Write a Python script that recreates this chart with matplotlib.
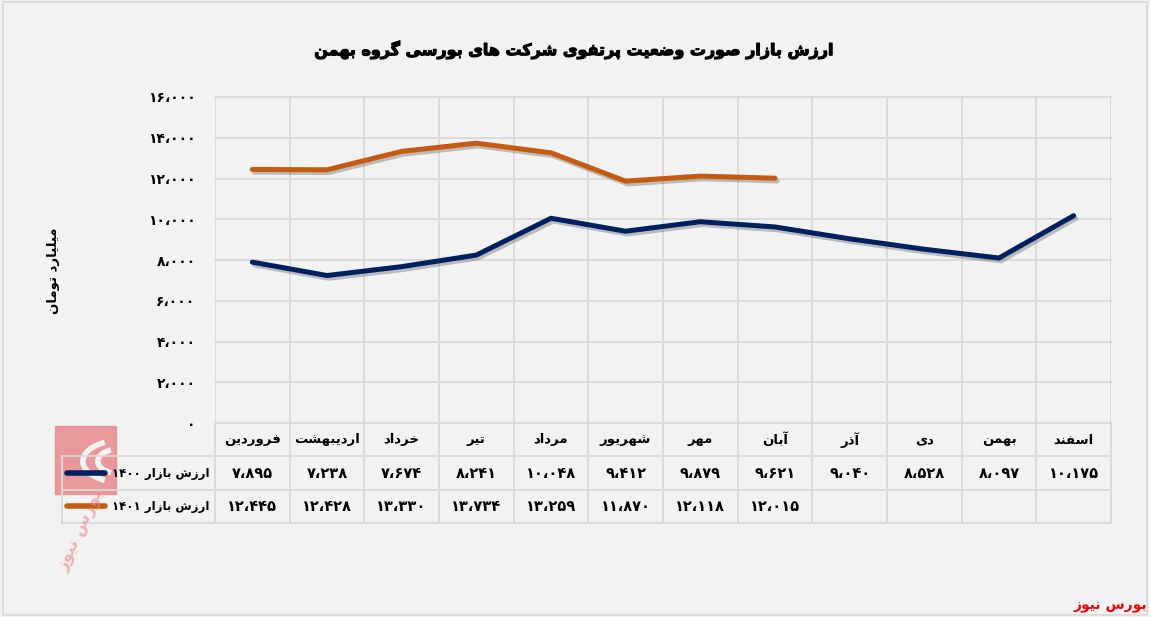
import matplotlib
matplotlib.use('Agg')
import matplotlib.pyplot as plt
import matplotlib.patheffects as pe
from matplotlib.patches import Rectangle, Arc

# ---------------- data ----------------
months = ['فروردین', 'اردیبهشت', 'خرداد', 'تیر', 'مرداد', 'شهریور',
          'مهر', 'آبان', 'آذر', 'دی', 'بهمن', 'اسفند']
values_1400 = [7895, 7238, 7674, 8241, 10048, 9412, 9879, 9621, 9040, 8528, 8097, 10175]
values_1401 = [12445, 12428, 13330, 13734, 13259, 11870, 12118, 12015]
series_names = ['ارزش بازار ۱۴۰۰', 'ارزش بازار ۱۴۰۱']
y_ticks = [0, 2000, 4000, 6000, 8000, 10000, 12000, 14000, 16000]
title_text = 'ارزش بازار صورت وضعیت پرتفوی شرکت های بورسی گروه بهمن'
ylabel_text = 'میلیارد تومان'
source_text = 'بورس نیوز'

# ---------------- Persian shaping helpers ----------------
FORMS = {
    '\u0627': ('\uFE8D', '\uFE8E', None, None),
    '\u0622': ('\uFE81', '\uFE82', None, None),
    '\u0628': ('\uFE8F', '\uFE90', '\uFE91', '\uFE92'),
    '\u067E': ('\uFB56', '\uFB57', '\uFB58', '\uFB59'),
    '\u062A': ('\uFE95', '\uFE96', '\uFE97', '\uFE98'),
    '\u062B': ('\uFE99', '\uFE9A', '\uFE9B', '\uFE9C'),
    '\u062C': ('\uFE9D', '\uFE9E', '\uFE9F', '\uFEA0'),
    '\u0686': ('\uFB7A', '\uFB7B', '\uFB7C', '\uFB7D'),
    '\u062D': ('\uFEA1', '\uFEA2', '\uFEA3', '\uFEA4'),
    '\u062E': ('\uFEA5', '\uFEA6', '\uFEA7', '\uFEA8'),
    '\u062F': ('\uFEA9', '\uFEAA', None, None),
    '\u0630': ('\uFEAB', '\uFEAC', None, None),
    '\u0631': ('\uFEAD', '\uFEAE', None, None),
    '\u0632': ('\uFEAF', '\uFEB0', None, None),
    '\u0698': ('\uFB8A', '\uFB8B', None, None),
    '\u0633': ('\uFEB1', '\uFEB2', '\uFEB3', '\uFEB4'),
    '\u0634': ('\uFEB5', '\uFEB6', '\uFEB7', '\uFEB8'),
    '\u0635': ('\uFEB9', '\uFEBA', '\uFEBB', '\uFEBC'),
    '\u0636': ('\uFEBD', '\uFEBE', '\uFEBF', '\uFEC0'),
    '\u0637': ('\uFEC1', '\uFEC2', '\uFEC3', '\uFEC4'),
    '\u0638': ('\uFEC5', '\uFEC6', '\uFEC7', '\uFEC8'),
    '\u0639': ('\uFEC9', '\uFECA', '\uFECB', '\uFECC'),
    '\u063A': ('\uFECD', '\uFECE', '\uFECF', '\uFED0'),
    '\u0641': ('\uFED1', '\uFED2', '\uFED3', '\uFED4'),
    '\u0642': ('\uFED5', '\uFED6', '\uFED7', '\uFED8'),
    '\u06A9': ('\uFB8E', '\uFB8F', '\uFB90', '\uFB91'),
    '\u06AF': ('\uFB92', '\uFB93', '\uFB94', '\uFB95'),
    '\u0644': ('\uFEDD', '\uFEDE', '\uFEDF', '\uFEE0'),
    '\u0645': ('\uFEE1', '\uFEE2', '\uFEE3', '\uFEE4'),
    '\u0646': ('\uFEE5', '\uFEE6', '\uFEE7', '\uFEE8'),
    '\u0647': ('\uFEE9', '\uFEEA', '\uFEEB', '\uFEEC'),
    '\u0648': ('\uFEED', '\uFEEE', None, None),
    '\u06CC': ('\uFBFC', '\uFBFD', '\uFBFE', '\uFBFF'),
    '\u064A': ('\uFEF1', '\uFEF2', '\uFEF3', '\uFEF4'),
}
DIGITS = set('۰۱۲۳۴۵۶۷۸۹0123456789،')


def shape(text):
    out = []
    for i, c in enumerate(text):
        if c not in FORMS:
            out.append(c)
            continue
        prev = text[i - 1] if i > 0 else None
        nxt = text[i + 1] if i + 1 < len(text) else None
        jp = prev in FORMS and FORMS[prev][2] is not None
        jn = nxt in FORMS and FORMS[c][2] is not None
        iso, fin, ini, med = FORMS[c]
        if jp and jn:
            out.append(med)
        elif jp:
            out.append(fin)
        elif jn:
            out.append(ini)
        else:
            out.append(iso)
    return ''.join(out)


def rtl(text):
    s = shape(text)
    runs = []
    for c in s:
        isd = c in DIGITS
        if runs and runs[-1][0] == isd:
            runs[-1][1].append(c)
        else:
            runs.append([isd, [c]])
    res = []
    for isd, chars in reversed(runs):
        res.append(''.join(chars) if isd else ''.join(reversed(chars)))
    return ''.join(res)


def fa_num(n):
    s = f'{n:,}'
    return s.translate(str.maketrans('0123456789,', '۰۱۲۳۴۵۶۷۸۹،'))


# ---------------- figure ----------------
W, H = 1150, 617
BG = '#F2F2F2'
GRID = '#D9D9D9'
C1400 = '#002060'
C1401 = '#C55A11'
FONT = 'DejaVu Sans'

fig = plt.figure(figsize=(W / 100, H / 100), dpi=100, facecolor=BG)

def px_axes(x0, y0, x1, y1):
    return fig.add_axes([x0 / W, 1 - y1 / H, (x1 - x0) / W, (y1 - y0) / H])

# border
fig.patches.append(Rectangle((3 / W, 2 / H), 1 - 6 / W, 1 - 4 / H, transform=fig.transFigure,
                             fill=False, edgecolor=GRID, lw=1.2))

PL, PR, PT, PB = 215, 1111, 97, 423
ax = px_axes(PL, PT, PR, PB)
ax.set_facecolor(BG)
ncol = len(months)
ax.set_xlim(0, ncol)
ax.set_ylim(0, 16000)
for s in ax.spines.values():
    s.set_visible(False)
for yv in y_ticks:
    ax.axhline(yv, color=GRID, lw=1.3, zorder=1, clip_on=False)
for xv in range(ncol + 1):
    ax.axvline(xv, color=GRID, lw=1.3, zorder=1)
ax.set_xticks([])
ax.set_yticks(y_ticks)
ax.set_yticklabels([fa_num(v) for v in y_ticks], fontfamily=FONT, fontweight='bold', fontsize=10)
ax.tick_params(axis='y', length=0, pad=14)

shadow = [pe.SimpleLineShadow(offset=(1.5, -2), shadow_color='#555555', alpha=0.35), pe.Normal()]
x1400 = [i + 0.5 for i in range(len(values_1400))]
x1401 = [i + 0.5 for i in range(len(values_1401))]
ax.plot(x1400, values_1400, color=C1400, lw=3.6, solid_capstyle='round', solid_joinstyle='round',
        zorder=4, path_effects=shadow)
ax.plot(x1401, values_1401, color=C1401, lw=3.6, solid_capstyle='round', solid_joinstyle='round',
        zorder=4, path_effects=shadow)

# ---------------- data table ----------------
TL, TT, TB = 62, 423, 523
colw = (PR - PL) / ncol
xl = -(PL - TL) / colw
tb = px_axes(TL, TT, PR, TB)
tb.set_xlim(xl, ncol)
tb.set_ylim(3, 0)
tb.axis('off')
tb.patch.set_alpha(0)
for xv in range(ncol + 1):
    tb.plot([xv, xv], [0, 3], color=GRID, lw=1.3, zorder=1, clip_on=False)
tb.plot([xl, xl], [1, 3], color=GRID, lw=1.3, zorder=1, clip_on=False)
for yv in (1, 2, 3):
    tb.plot([xl, ncol], [yv, yv], color=GRID, lw=1.3, zorder=1, clip_on=False)

# watermark logo (approximation)
tb.add_patch(Rectangle((xl - 0.1, 0.08), 0.82, 2.05, color='#E8898D', alpha=0.85, zorder=0.5,
                       clip_on=False))
for r in (0.3, 0.5):
    tb.add_patch(Arc((xl + 0.78, 1.15), r * 2.0, r * 2.5, theta1=110, theta2=250, color=BG, lw=4,
                     zorder=0.6, clip_on=False))
fig.text(80 / W, 1 - 530 / H, rtl(source_text), color='#E8898D', alpha=0.6, fontsize=12,
         fontfamily=FONT, fontweight='bold', rotation=65, ha='center', va='center')

for i, m in enumerate(months):
    tb.text(i + 0.5, 0.5, rtl(m), ha='center', va='center', fontfamily=FONT,
            fontweight='bold', fontsize=9.5)
for i, v in enumerate(values_1400):
    tb.text(i + 0.5, 1.5, fa_num(v), ha='center', va='center', fontfamily=FONT,
            fontweight='bold', fontsize=10.5)
for i, v in enumerate(values_1401):
    tb.text(i + 0.5, 2.5, fa_num(v), ha='center', va='center', fontfamily=FONT,
            fontweight='bold', fontsize=10.5)
for row, (name, col) in enumerate(zip(series_names, [C1400, C1401])):
    yr = 1.5 + row
    tb.plot([xl + 0.07, xl + 0.58], [yr, yr], color=col, lw=4, solid_capstyle='round',
            zorder=3, clip_on=False)
    tb.text(-0.07, yr, rtl(name), ha='right', va='center', fontfamily=FONT,
            fontweight='bold', fontsize=8.5, zorder=4)

# ---------------- texts ----------------
fig.text(575 / W, 1 - 50 / H, rtl(title_text), ha='center', va='center', fontfamily=FONT,
         fontweight='bold', fontsize=11.5,
         path_effects=[pe.withStroke(linewidth=0.8, foreground='black')])
fig.text(53 / W, 1 - 271 / H, rtl(ylabel_text), ha='center', va='center', rotation=90,
         fontfamily=FONT, fontweight='bold', fontsize=9.5)
fig.text(1147 / W, 1 - 606 / H, rtl(source_text), ha='right', va='center', color='#FF0000',
         fontfamily=FONT, fontweight='bold', fontsize=10)

fig.savefig('out.png', dpi=100, facecolor=BG)
